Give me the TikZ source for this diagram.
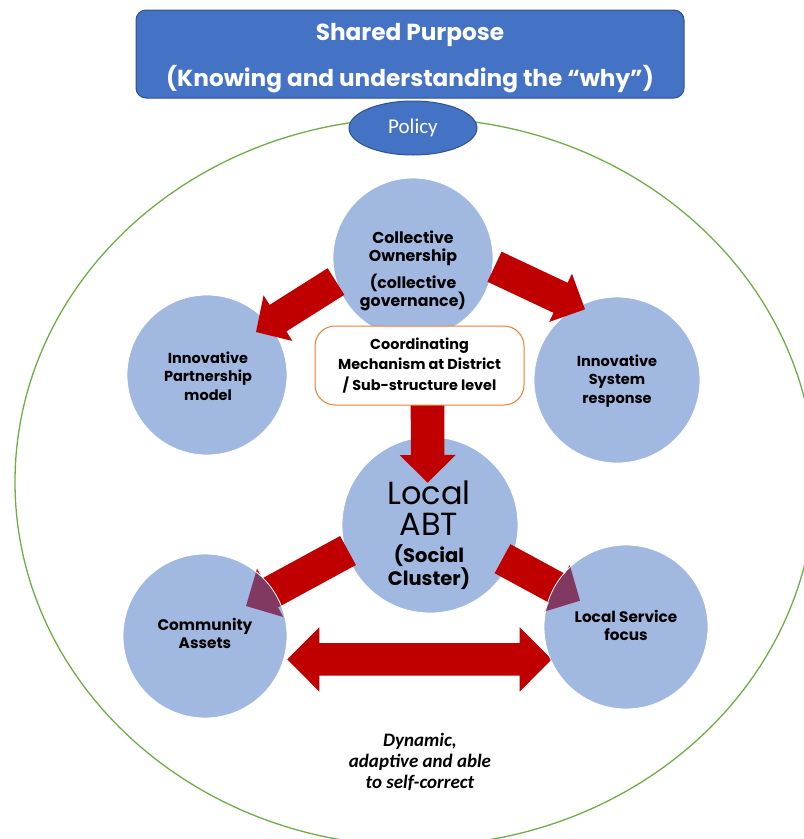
\documentclass[tikz,border=0pt]{standalone}
\usepackage{fontspec}
\setmainfont{Poppins}
\newfontfamily\calib{Carlito}
\usetikzlibrary{calc,shapes.geometric}

\definecolor{accblue}{HTML}{4472C4}
\definecolor{accblueline}{HTML}{2F528F}
\definecolor{ringgreen}{HTML}{70AD47}
\definecolor{arrowred}{HTML}{C00000}
\definecolor{boxorange}{HTML}{ED7D31}

% block arrow: tail, tip, shaft half-width, head half-width, head length
\newcommand\blockarrow[5]{%
  \coordinate (hb) at ($(#2)!#5!(#1)$);
  \fill[arrowred] ($(#1)!#3!90:(#2)$) -- ($(hb)!#3!90:(#2)$) -- ($(hb)!#4!90:(#2)$)
    -- (#2) -- ($(hb)!#4!-90:(#2)$) -- ($(hb)!#3!-90:(#2)$) -- ($(#1)!#3!-90:(#2)$) -- cycle;
}
% double-headed block arrow: tip, tip, shaft half-width, head half-width, head length
\newcommand\dblarrow[5]{%
  \coordinate (hb1) at ($(#1)!#5!(#2)$);
  \coordinate (hb2) at ($(#2)!#5!(#1)$);
  \fill[arrowred] (#1) -- ($(hb1)!#4!90:(#2)$) -- ($(hb1)!#3!90:(#2)$) -- ($(hb2)!#3!-90:(#1)$)
    -- ($(hb2)!#4!-90:(#1)$) -- (#2) -- ($(hb2)!#4!90:(#1)$) -- ($(hb2)!#3!90:(#1)$)
    -- ($(hb1)!#3!-90:(#2)$) -- ($(hb1)!#4!-90:(#2)$) -- cycle;
}

\begin{document}
\begin{tikzpicture}[x=1pt,y=-1pt,
  bubble/.style={circle, fill=accblue, fill opacity=0.5, text opacity=1,
    draw=white, line width=0.8pt, inner sep=0pt, align=center},
  bubtext/.style={font=\bfseries\fontsize{14.5}{18.5}\selectfont, align=center, text=black},
  titlebox/.style={draw=accblueline, line width=1pt, fill=accblue, rounded corners=10pt},
  titletext/.style={text=white, align=center, font=\bfseries\fontsize{23.2}{46}\selectfont},
  policybox/.style={ellipse, draw=accblueline, line width=1pt, fill=accblue, text=white,
    font=\calib\fontsize{21}{22}\selectfont, inner sep=0pt},
  coordbox/.style={draw=boxorange, line width=1pt, fill=white, rounded corners=20pt,
    align=center, font=\bfseries\fontsize{14.4}{20.5}\selectfont},
]
\useasboundingbox (0,0) rectangle (804,839);

% outer ring
\draw[ringgreen, line width=1.3pt] (415,482) ellipse [x radius=400, y radius=364];

% circle centres
\coordinate (cC) at (413,258);
\coordinate (cP) at (207,375);
\coordinate (cS) at (617,380);
\coordinate (cL) at (430,525);
\coordinate (cA) at (205,636);
\coordinate (cF) at (626,627);

% the social cluster circle sits beneath its outgoing arrows
\node[bubble, minimum size=176pt] (abt) at (cL) {};

% arrows that sit beneath the lower circles
\coordinate (t4) at (348,550.5);  \coordinate (h4) at (246,606);
\coordinate (t5) at (502.5,558.7);\coordinate (h5) at (580,600.7);
\blockarrow{t4}{h4}{16.5pt}{27.5pt}{27.5pt}
\blockarrow{t5}{h5}{16.5pt}{26.5pt}{26pt}
\coordinate (d1) at (287.3,659.4); \coordinate (d2) at (551.7,659.4);
\dblarrow{d1}{d2}{16.3pt}{32.2pt}{32pt}

% circles
\node[bubble, minimum size=160pt] (coll) at (cC) {};
\node[bubble, minimum size=160pt] (part) at (cP) {};
\node[bubble, minimum size=166pt] (sys) at (cS) {};
\node[bubble, minimum size=164pt] (assets) at (cA) {};
\node[bubble, minimum size=164pt] (serv) at (cF) {};

% arrows drawn over the circles
\coordinate (t1) at (336,281.5); \coordinate (h1) at (256,332);
\coordinate (t2) at (494.5,266.7); \coordinate (h2) at (585,309.3);
\coordinate (t3) at (427.5,400); \coordinate (h3) at (427.7,482.7);
\blockarrow{t1}{h1}{15.7pt}{27pt}{26pt}
\blockarrow{t2}{h2}{16.6pt}{26.7pt}{27pt}
\blockarrow{t3}{h3}{16.8pt}{28pt}{27.7pt}

% coordinating mechanism
\node[coordbox, minimum width=209pt, minimum height=79pt] (coord) at (419.5,365.5)
  {Coordinating\\Mechanism at District\\/ Sub-structure level};

% circle labels
\node[bubtext, font=\bfseries\fontsize{15.8}{18}\selectfont] (collT) at (413,271)
  {Collective\\Ownership\\[8pt](collective\\governance)};
\node[bubtext] (partT) at (208,376) {Innovative\\Partnership\\model};
\node[bubtext] (sysT) at (617,381) {Innovative\\System\\response};
\node[align=center, font=\fontsize{32}{31}\selectfont] (abtT1) at (429,508) {Local\\ABT};
\node[align=center, font=\bfseries\fontsize{19.5}{23}\selectfont] (abtT2) at (429,567) {(Social\\Cluster)};
\node[bubtext, font=\bfseries\fontsize{15.3}{18}\selectfont] (assetsT) at (205,633) {Community\\Assets};
\node[bubtext, font=\bfseries\fontsize{15.3}{18}\selectfont] (servT) at (626,625) {Local Service\\focus};

\node[align=center, font=\calib\bfseries\itshape\fontsize{19}{21}\selectfont] (dyn) at (420,762)
  {Dynamic,\\adaptive and able\\to self-correct};

% header and policy
\node[titlebox, minimum width=548pt, minimum height=88pt] (title) at (410,54) {};
\node[titletext] (titleT) at (410,58) {Shared Purpose\\(Knowing and understanding the “why”)};
\node[policybox, minimum width=128pt, minimum height=54pt] (policy) at (413,128) {Policy};
\end{tikzpicture}
\end{document}
